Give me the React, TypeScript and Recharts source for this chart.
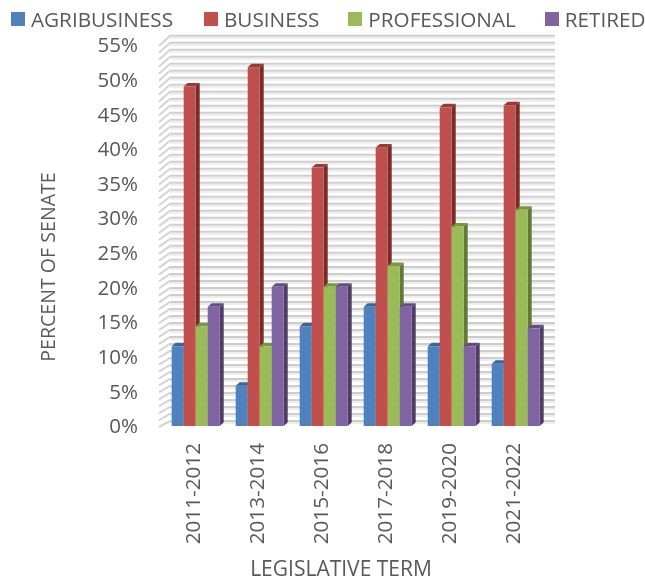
import React from "react";
import { ComposedChart, Bar, XAxis, YAxis, CartesianGrid, Legend, Label } from "recharts";

const terms = ["2011-2012", "2013-2014", "2015-2016", "2017-2018", "2019-2020", "2021-2022"];
const agribusiness = [11.5, 5.8, 14.4, 17.2, 11.5, 9.0];
const business = [49.0, 51.8, 37.3, 40.2, 46.0, 46.3];
const professional = [14.4, 11.5, 20.1, 23.1, 28.8, 31.2];
const retired = [17.2, 20.1, 20.1, 17.2, 11.5, 14.1];
const yTicks = [0, 5, 10, 15, 20, 25, 30, 35, 40, 45, 50, 55];
const gridValues = [0,1,2,3,4,5,6,7,8,9,10,11,12,13,14,15,16,17,18,19,20,21,22,23,24,25,26,27,28,29,30,31,32,33,34,35,36,37,38,39,40,41,42,43,44,45,46,47,48,49,50,51,52,53,54,55];

const data = terms.map((term, i) => ({
  term,
  AGRIBUSINESS: agribusiness[i],
  BUSINESS: business[i],
  PROFESSIONAL: professional[i],
  RETIRED: retired[i],
}));

const FONT = "'Open Sans', sans-serif";
const TXT = "#595959";
const DX = 4;
const DY = 3.5;

const Bar3D = (colors: { front: string; top: string; side: string }) => (p: any) => {
  const { x, y, width, height } = p;
  if (height == null) return null;
  return (
    <g>
      <polygon points={`${x + width},${y} ${x + width + DX},${y - DY} ${x + width + DX},${y + height - DY} ${x + width},${y + height}`} fill={colors.side} />
      <polygon points={`${x},${y} ${x + DX},${y - DY} ${x + width + DX},${y - DY} ${x + width},${y}`} fill={colors.top} />
      <rect x={x} y={y} width={width} height={height} fill={colors.front} />
    </g>
  );
};

const gridLine = (p: any) => {
  const { x1, x2, y1 } = p;
  const back = y1 - 5 - (426 - y1) * 0.0113;
  return (
    <g key={p.key ?? y1}>
      <line x1={x1 - 4} y1={y1 + 1} x2={x1 + 7} y2={back} stroke="#d4d4d4" strokeWidth={2} />
      <line x1={x1 + 7} y1={back} x2={x2 + 8} y2={back} stroke="#cdcdcd" strokeWidth={2} />
      <line x1={x1 + 7} y1={back + 2} x2={x2 + 8} y2={back + 2} stroke="#ededed" strokeWidth={2} />
    </g>
  );
};

const legendContent = (p: any) => (
  <div style={{ display: "flex", fontFamily: FONT, fontSize: 20.7, color: TXT, lineHeight: "22px", whiteSpace: "nowrap" }}>
    {p.payload.map((e: any, i: number) => (
      <div key={e.value} style={{ display: "flex", alignItems: "center", marginRight: i === 0 ? 31 : 29 }}>
        <span style={{ width: 14, height: 14, background: e.color, marginRight: 6, display: "inline-block" }} />
        {e.value}
      </div>
    ))}
  </div>
);

const XTick = (p: any) => (
  <text x={p.x} y={p.y} transform={`rotate(-90 ${p.x} ${p.y})`} dx={-9} dy={4.5} textAnchor="end" fontFamily={FONT} fontSize={20.7} fill={TXT}>
    {p.payload.value}
  </text>
);

const xLabel = () => (
  <text x={341} y={576} textAnchor="middle" fontFamily={FONT} fontSize={21} fill={TXT}>LEGISLATIVE TERM</text>
);
const yLabel = () => (
  <text x={55} y={267} transform="rotate(-90 55 267)" textAnchor="middle" fontFamily={FONT} fontSize={19.6} fill={TXT}>PERCENT OF SENATE</text>
);

export default function App() {
  return (
    <div style={{ position: "fixed", left: 0, top: 0, filter: "blur(0.4px)" }}>
      <ComposedChart width={645} height={582} data={data} margin={{ top: 45, right: 98, left: 0, bottom: 0 }} barCategoryGap={8.7} barGap={0}>
        <CartesianGrid horizontal={gridLine} vertical={false} horizontalValues={gridValues} syncWithTicks={false} />
        <XAxis dataKey="term" height={156} interval={0} axisLine={false} tickLine={false} tick={XTick}>
          <Label content={xLabel} />
        </XAxis>
        <YAxis width={163} domain={[0, 55]} ticks={yTicks} interval={0} tickFormatter={(v: number) => `${v}%`} axisLine={false} tickLine={false} tickMargin={19} tick={{ fontFamily: FONT, fontSize: 20.5, fill: TXT }}>
          <Label content={yLabel} />
        </YAxis>
        <Legend layout="horizontal" verticalAlign="middle" align="center" content={legendContent} wrapperStyle={{ top: 8, left: 11, width: 634, height: 22 }} />
        <Bar dataKey="AGRIBUSINESS" fill="#4f81bd" isAnimationActive={false} shape={Bar3D({ front: "#4f81bd", top: "#3a6595", side: "#2f5480" })} />
        <Bar dataKey="BUSINESS" fill="#c0504d" isAnimationActive={false} shape={Bar3D({ front: "#c0504d", top: "#983a38", side: "#7a2c2a" })} />
        <Bar dataKey="PROFESSIONAL" fill="#9bbb59" isAnimationActive={false} shape={Bar3D({ front: "#9bbb59", top: "#7a9642", side: "#627a34" })} />
        <Bar dataKey="RETIRED" fill="#8064a2" isAnimationActive={false} shape={Bar3D({ front: "#8064a2", top: "#644d80", side: "#503c68" })} />
      </ComposedChart>
    </div>
  );
}
